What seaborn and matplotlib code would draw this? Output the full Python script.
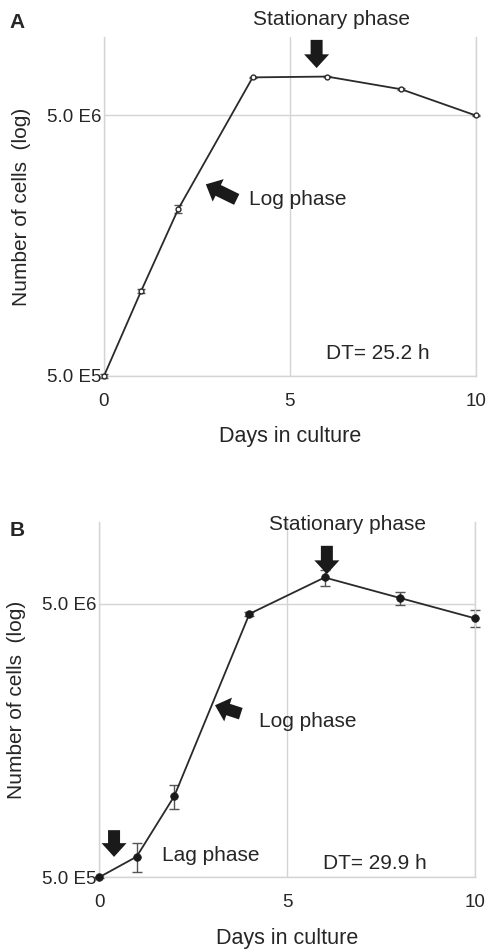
import numpy as np
import pandas as pd
import matplotlib
matplotlib.use("Agg")
import matplotlib.pyplot as plt
import seaborn as sns

days = [0, 1, 2, 4, 6, 8, 10]
cells_a = [5.0e5, 1.06e6, 2.19e6, 7.0e6, 7.05e6, 6.3e6, 5.0e6]
err_a = [0.01e6, 0.015e6, 0.07e6, 0.04e6, 0.04e6, 0.05e6, 0.03e6]
cells_b = [5.0e5, 5.95e5, 9.9e5, 4.6e6, 6.25e6, 5.26e6, 4.43e6]
err_b = [0.01e5, 0.7e5, 0.1e6, 0.08e6, 0.42e6, 0.29e6, 0.32e6]
dt_a = "DT= 25.2 h"
dt_b = "DT= 29.9 h"
yticks = [5e5, 5e6]
ytick_labels = ["5.0 E5", "5.0 E6"]
xticks = [0, 5, 10]

sns.set_theme(style="white")
plt.rcParams['font.family'] = ['Liberation Sans', 'DejaVu Sans']

TXT = "#262626"
GRID = "#d4d4d4"

fig = plt.figure(figsize=(4.88, 9.49), dpi=100)
axA = fig.add_axes([0.2131, 0.6038, 0.7617, 0.3572])
axB = fig.add_axes([0.2029, 0.0755, 0.7705, 0.3748])


def style(ax):
    ax.set_yscale("log")
    ax.set_xlim(0, 10)
    ax.set_ylim(5e5, 1e7)
    ax.set_xticks(xticks)
    ax.set_xticklabels([str(t) for t in xticks])
    ax.set_yticks(yticks)
    ax.set_yticklabels(ytick_labels)
    ax.yaxis.set_minor_locator(matplotlib.ticker.NullLocator())
    ax.grid(True, color=GRID, lw=1.0)
    ax.set_axisbelow(True)
    for s in ["left", "right", "bottom"]:
        ax.spines[s].set_visible(True)
        ax.spines[s].set_color(GRID)
        ax.spines[s].set_linewidth(1.0)
    ax.spines["top"].set_visible(False)
    ax.tick_params(axis="both", length=0, labelsize=13.5, colors=TXT)
    ax.tick_params(axis="y", pad=2)
    ax.tick_params(axis="x", pad=12)
    ax.set_xlabel("Days in culture", fontsize=15.5, color=TXT, labelpad=12)
    ax.set_ylabel("Number of cells  (log)", fontsize=15, color=TXT, labelpad=11)


def arrow(ax, tail, head, scale=1.0):
    ax.annotate("", xy=head, xytext=tail, xycoords="data",
                annotation_clip=False,
                arrowprops=dict(arrowstyle="simple,head_length=0.55,head_width=1.0,tail_width=0.48",
                                mutation_scale=18 * scale, color="#1a1a1a",
                                shrinkA=0, shrinkB=0, lw=0))


# Panel A
dfA = pd.DataFrame({"day": days, "cells": cells_a})
axA.errorbar(days, cells_a, yerr=err_a, fmt="none", ecolor="#555555",
             elinewidth=1.0, capsize=3, capthick=1.0, zorder=2, clip_on=False)
sns.lineplot(data=dfA, x="day", y="cells", ax=axA, color="#2a2a2a", lw=1.3,
             marker="o", markersize=3.5, markerfacecolor="white",
             markeredgecolor="#2a2a2a", markeredgewidth=1.0, zorder=3,
             clip_on=False)
style(axA)
arrow(axA, (5.72, 9.75e6), (5.72, 7.6e6))
arrow(axA, (3.57, 2.38e6), (2.74, 2.72e6))
axA.text(6.13, 1.163e7, "Stationary phase", ha="center", va="center",
         fontsize=15, color=TXT, clip_on=False)
axA.text(3.91, 2.38e6, "Log phase", ha="left", va="center", fontsize=15, color=TXT)
axA.text(5.97, 6.08e5, dt_a, ha="left", va="center", fontsize=15, color=TXT)
fig.text(0.02, 0.9768, "A", fontsize=15, fontweight="bold", color=TXT,
         ha="left", va="center")

# Panel B
dfB = pd.DataFrame({"day": days, "cells": cells_b})
axB.errorbar(days, cells_b, yerr=err_b, fmt="none", ecolor="#555555",
             elinewidth=1.0, capsize=3.5, capthick=1.0, zorder=2, clip_on=False)
sns.lineplot(data=dfB, x="day", y="cells", ax=axB, color="#2a2a2a", lw=1.3,
             marker="o", markersize=5.5, markerfacecolor="#1a1a1a",
             markeredgecolor="#1a1a1a", markeredgewidth=0.5, zorder=3,
             clip_on=False)
style(axB)
arrow(axB, (6.06, 8.16e6), (6.06, 6.43e6))
arrow(axB, (3.77, 1.985e6), (3.085, 2.13e6))
arrow(axB, (0.4, 7.44e5), (0.4, 5.94e5))
axB.text(6.62, 9.8e6, "Stationary phase", ha="center", va="center",
         fontsize=15, color=TXT, clip_on=False)
axB.text(4.26, 1.865e6, "Log phase", ha="left", va="center", fontsize=15, color=TXT)
axB.text(1.67, 6.0e5, "Lag phase", ha="left", va="center", fontsize=15, color=TXT)
axB.text(5.97, 5.62e5, dt_b, ha="left", va="center", fontsize=15, color=TXT)
fig.text(0.02, 0.4405, "B", fontsize=15, fontweight="bold", color=TXT,
         ha="left", va="center")

fig.savefig("out.png", dpi=100)
